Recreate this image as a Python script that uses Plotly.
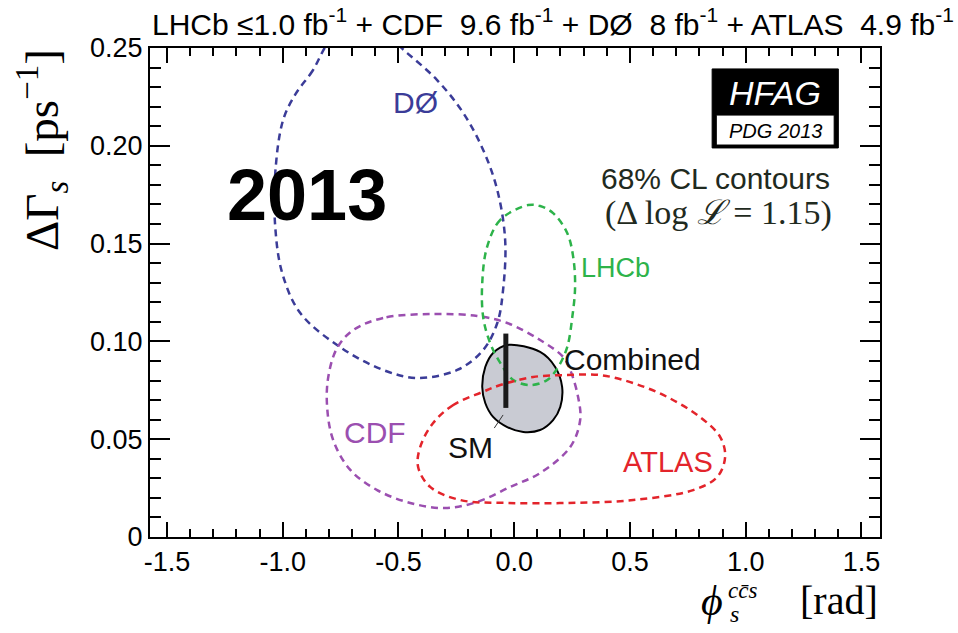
import plotly.graph_objects as go

# ---------------- data ----------------
d0_x = [-0.816, -0.870, -0.944, -0.998, -1.032, -1.032, -1.002, -0.924, -0.752, -0.566, -0.419,
        -0.246, -0.134, -0.073, -0.048, -0.039, -0.073, -0.134, -0.220, -0.333, -0.462,
        -0.579, -0.687, -0.773, -0.816]
d0_y = [0.2505, 0.2385, 0.2265, 0.2132, 0.1861, 0.1585, 0.1350, 0.1145, 0.0971, 0.0854, 0.0813,
        0.0854, 0.0956, 0.1094, 0.1263, 0.1518, 0.1774, 0.1979, 0.2168, 0.2336, 0.2474,
        0.2590, 0.2620, 0.2570, 0.2505]

lhcb_x = [0.060, -0.060, -0.117, -0.138, -0.134, -0.104, -0.060, -0.004, 0.069, 0.143, 0.190,
          0.229, 0.251, 0.263, 0.255, 0.229, 0.168, 0.112, 0.060]
lhcb_y = [0.1697, 0.1621, 0.1483, 0.1299, 0.1125, 0.0992, 0.0890, 0.0803, 0.0777, 0.0803, 0.0869,
          0.0971, 0.1125, 0.1278, 0.1431, 0.1554, 0.1656, 0.1692, 0.1697]

cdf_x = [-0.350, -0.566, -0.695, -0.765, -0.803, -0.808, -0.782, -0.708, -0.592, -0.449, -0.298,
         -0.160, -0.017, 0.112, 0.242, 0.285, 0.276, 0.242, 0.212, 0.112, -0.030, -0.160, -0.350]
cdf_y = [0.1140, 0.1120, 0.1058, 0.0966, 0.0818, 0.0665, 0.0496, 0.0343, 0.0240, 0.0174, 0.0148,
         0.0179, 0.0256, 0.0327, 0.0460, 0.0598, 0.0716, 0.0854, 0.0920, 0.1007, 0.1094, 0.1130, 0.1140]

atlas_x = [-0.138, -0.263, -0.350, -0.406, -0.415, -0.363, -0.233, -0.030, 0.229, 0.514, 0.773,
           0.877, 0.911, 0.890, 0.803, 0.661, 0.514, 0.371, 0.229, 0.082, -0.060, -0.138]
atlas_y = [0.0741, 0.0675, 0.0583, 0.0460, 0.0358, 0.0256, 0.0189, 0.0174, 0.0174, 0.0189, 0.0240,
           0.0307, 0.0409, 0.0511, 0.0613, 0.0716, 0.0787, 0.0828, 0.0828, 0.0818, 0.0777, 0.0741]

comb_x = [-0.030, 0.112, 0.177, 0.207, 0.199, 0.168, 0.112, 0.039, -0.030, -0.091, -0.125,
          -0.138, -0.125, -0.091, -0.030]
comb_y = [0.0982, 0.0946, 0.0869, 0.0767, 0.0665, 0.0598, 0.0547, 0.0537, 0.0562, 0.0614, 0.0685,
          0.0767, 0.0869, 0.0941, 0.0982]

sm_x = [-0.036, -0.036]
sm_y = [0.066, 0.104]

x_tickvals = [-1.5, -1.0, -0.5, 0.0, 0.5, 1.0, 1.5]
x_ticktext = ["-1.5", "-1.0", "-0.5", "0.0", "0.5", "1.0", "1.5"]
y_tickvals = [0, 0.05, 0.10, 0.15, 0.20, 0.25]
y_ticktext = ["0", "0.05", "0.10", "0.15", "0.20", "0.25"]

# ---------------- styling ----------------
C_D0 = "#3b3c98"
C_LHCB = "#2db34a"
C_CDF = "#9b4fb0"
C_ATLAS = "#e3242b"
DASH = "7px,5px"
SANS = "Liberation Sans, Arial, sans-serif"
SERIF = "Liberation Serif, DejaVu Serif, serif"

W, H = 958, 633
L, R, T, B = 150, 78, 48, 96
PW, PH = W - L - R, H - T - B
XR = [-1.573, 1.58]
YR = [0, 0.25]


def px(xp):
    return (xp - L) / PW


def py(yp):
    return (H - B - yp) / PH


fig = go.Figure()

fig.add_trace(go.Scatter(x=comb_x, y=comb_y, mode="lines", fill="toself",
                         fillcolor="#c9cbd3", line=dict(color="black", width=2, shape="spline"),
                         hoverinfo="skip"))
for xs, ys, c in [(d0_x, d0_y, C_D0), (cdf_x, cdf_y, C_CDF),
                  (lhcb_x, lhcb_y, C_LHCB), (atlas_x, atlas_y, C_ATLAS)]:
    fig.add_trace(go.Scatter(x=xs, y=ys, mode="lines",
                             line=dict(color=c, width=2.5, dash=DASH, shape="spline"),
                             hoverinfo="skip"))
fig.add_trace(go.Scatter(x=sm_x, y=sm_y, mode="lines",
                         line=dict(color="#1a1a1a", width=5), hoverinfo="skip"))
fig.add_trace(go.Scatter(x=[-0.086, -0.048], y=[0.0557, 0.0624], mode="lines",
                         line=dict(color="#333", width=1), hoverinfo="skip"))
# empty trace so that the mirrored (top/right) tick axes are drawn
fig.add_trace(go.Scatter(x=[], y=[], xaxis="x2", yaxis="y2", hoverinfo="skip"))

ann = []


def label(x, y, text, color, size, family=SANS, xanchor="center", xref="x", yref="y", **kw):
    ann.append(dict(x=x, y=y, xref=xref, yref=yref, text=text, showarrow=False,
                    xanchor=xanchor, yanchor="middle", borderpad=0,
                    font=dict(color=color, size=size, family=family), **kw))


label(-0.428, 0.2219, "DØ", C_D0, 30)
label(0.436, 0.1375, "LHCb", C_LHCB, 27)
label(-0.600, 0.0532, "CDF", C_CDF, 30)
label(0.665, 0.0383, "ATLAS", C_ATLAS, 29)
label(0.210, 0.0905, "Combined", "#111", 30, xanchor="left")
label(-0.190, 0.0460, "SM", "#111", 30)
label(-0.894, 0.1748, "<b>2013</b>", "black", 72)
label(0.868, 0.1835, "68% CL contours", "#1f2a20", 30)
label(0.881, 0.1656, "(Δ log <i>ℒ</i> = 1.15)", "#1f2a20", 34, family=SERIF)
label(1.127, 0.2272, "<i>HFAG</i>", "white", 34)
label(1.127, 0.2076, "<i>PDG 2013</i>", "black", 20)

# top header
label(px(151), py(22),
      "LHCb ≤1.0 fb<sup>-1</sup> + CDF  9.6 fb<sup>-1</sup> + DØ  8 fb<sup>-1</sup> + ATLAS  4.9 fb<sup>-1</sup>",
      "black", 30, xanchor="left", xref="paper", yref="paper")
# y title
ann.append(dict(x=px(42), y=py(150), xref="paper", yref="paper", showarrow=False,
                text="ΔΓ<sub><i>s</i></sub>  [ps<sup>−1</sup>]", textangle=-90,
                xanchor="center", yanchor="middle",
                font=dict(color="black", size=47, family=SERIF)))
# x title: phi, stacked super/subscript, unit
label(px(700), py(601), "<i>ϕ</i>", "black", 42, family=SERIF, xanchor="left",
      xref="paper", yref="paper")
label(px(727), py(590), "<i>cc̄s</i>", "black", 23, family=SERIF, xanchor="left",
      xref="paper", yref="paper")
label(px(729), py(614), "<i>s</i>", "black", 24, family=SERIF, xanchor="left",
      xref="paper", yref="paper")
label(px(879), py(600), "[rad]", "black", 40, family=SERIF, xanchor="right",
      xref="paper", yref="paper")

shapes = [
    dict(type="rect", xref="x", yref="y", x0=0.855, x1=1.400, y0=0.1989, y1=0.2393,
         fillcolor="black", line=dict(color="black", width=1), layer="above"),
    dict(type="rect", xref="x", yref="y", x0=0.873, x1=1.382, y0=0.2004, y1=0.2157,
         fillcolor="white", line=dict(color="black", width=1), layer="above"),
]

tick_common = dict(ticks="inside", tickcolor="black", tickwidth=2,
                   showgrid=False, zeroline=False,
                   tickfont=dict(family=SANS, size=27, color="black"))
xminor = dict(dtick=0.1, tick0=0, ticks="inside", ticklen=8, tickwidth=2, tickcolor="black")
yminor = dict(dtick=0.01, tick0=0, ticks="inside", ticklen=11, tickwidth=2, tickcolor="black")

fig.update_layout(
    width=W, height=H, margin=dict(l=L, r=R, t=T, b=B, pad=0),
    paper_bgcolor="white", plot_bgcolor="white", showlegend=False,
    xaxis=dict(range=XR, tickvals=x_tickvals, ticktext=x_ticktext, ticklen=15, minor=xminor,
               showline=True, linecolor="black", linewidth=2, mirror=True, **tick_common),
    yaxis=dict(range=YR, tickvals=y_tickvals, ticktext=y_ticktext, ticklen=20, minor=yminor,
               showline=True, linecolor="black", linewidth=2, mirror=True, **tick_common),
    xaxis2=dict(range=XR, overlaying="x", side="top", tickvals=x_tickvals, ticklen=15,
                minor=xminor, showticklabels=False, showline=False, **tick_common),
    yaxis2=dict(range=YR, overlaying="y", side="right", tickvals=y_tickvals, ticklen=20,
                minor=yminor, showticklabels=False, showline=False, **tick_common),
    annotations=ann, shapes=shapes,
)

fig.write_html("out.html")
